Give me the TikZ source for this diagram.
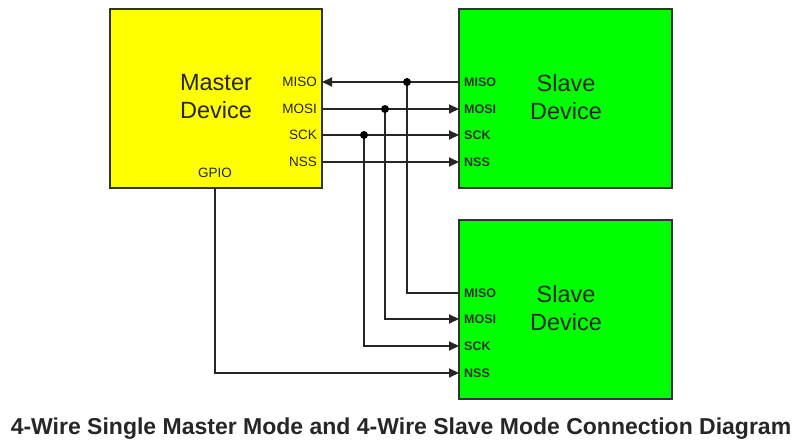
\documentclass[tikz,border=0pt]{standalone}
\usepackage{fontspec}
\setmainfont{Liberation Sans}
\usetikzlibrary{arrows.meta}
\definecolor{mastery}{RGB}{255,255,0}
\definecolor{slaveg}{RGB}{0,255,0}
\begin{document}
\begin{tikzpicture}[x=1pt,y=-1pt,
  dev/.style={draw=black!80,line width=2pt,inner sep=0pt},
  wire/.style={line width=2pt,draw=black!85},
  arr/.style={wire,-{Triangle[length=10pt,width=9pt]}},
  dot/.style={circle,fill=black,inner sep=0pt,minimum size=8pt},
  pinm/.style={font=\fontsize{13.5}{14}\selectfont,anchor=east,inner sep=0pt,text=black!85},
  pins/.style={font=\fontsize{12.5}{14}\selectfont\bfseries,anchor=west,inner sep=0pt,text=black!80},
  big/.style={font=\fontsize{23.5}{28}\selectfont,align=center,inner sep=0pt,text=black!85}]
\useasboundingbox (0,0) rectangle (796,443);
% boxes
\path[dev,fill=mastery] (110,9) rectangle (322,188);
\path[dev,fill=slaveg] (459,9) rectangle (672,188);
\path[dev,fill=slaveg] (459,220) rectangle (672,399);
\node[big] (mt) at (216,97) {Master\\Device};
\node[big] (s1t) at (566,97) {Slave\\Device};
\node[big] (s2t) at (566,308) {Slave\\Device};
% master pins
\coordinate (mMISO) at (322,82);
\coordinate (mMOSI) at (322,109);
\coordinate (mSCK) at (322,135);
\coordinate (mNSS) at (322,162);
\coordinate (mGPIO) at (215,188);
\node[pinm] (lm1) at (317,82) {MISO};
\node[pinm] (lm2) at (317,109) {MOSI};
\node[pinm] (lm3) at (317,135) {SCK};
\node[pinm] (lm4) at (317,162) {NSS};
\node[font=\fontsize{13.5}{14}\selectfont,inner sep=0pt,text=black!85] (lg) at (215,173) {GPIO};
% slave 1 pins
\coordinate (aMISO) at (459,82);
\coordinate (aMOSI) at (459,109);
\coordinate (aSCK) at (459,135);
\coordinate (aNSS) at (459,162);
\node[pins] (la1) at (464,82) {MISO};
\node[pins] (la2) at (464,109) {MOSI};
\node[pins] (la3) at (464,135) {SCK};
\node[pins] (la4) at (464,162) {NSS};
% slave 2 pins
\coordinate (bMISO) at (459,293);
\coordinate (bMOSI) at (459,319);
\coordinate (bSCK) at (459,346);
\coordinate (bNSS) at (459,373);
\node[pins] (lb1) at (464,293) {MISO};
\node[pins] (lb2) at (464,319) {MOSI};
\node[pins] (lb3) at (464,346) {SCK};
\node[pins] (lb4) at (464,373) {NSS};
% junctions
\coordinate (jMISO) at (407,82);
\coordinate (jMOSI) at (385,109);
\coordinate (jSCK) at (364,135);
% wires
\draw[arr] (aMISO) -- (mMISO);
\draw[arr] (mMOSI) -- (aMOSI);
\draw[arr] (mSCK) -- (aSCK);
\draw[arr] (mNSS) -- (aNSS);
\draw[wire] (jMISO) |- (bMISO);
\draw[arr] (jMOSI) |- (bMOSI);
\draw[arr] (jSCK) |- (bSCK);
\draw[arr] (mGPIO) |- (bNSS);
\node[dot] (d1) at (jMISO) {};
\node[dot] (d2) at (jMOSI) {};
\node[dot] (d3) at (jSCK) {};
% caption
\node[font=\fontsize{23}{26}\selectfont\bfseries,text=black!85,inner sep=0pt] (cap) at (401,429) {4-Wire Single Master Mode and 4-Wire Slave Mode Connection Diagram};
\end{tikzpicture}
\end{document}
